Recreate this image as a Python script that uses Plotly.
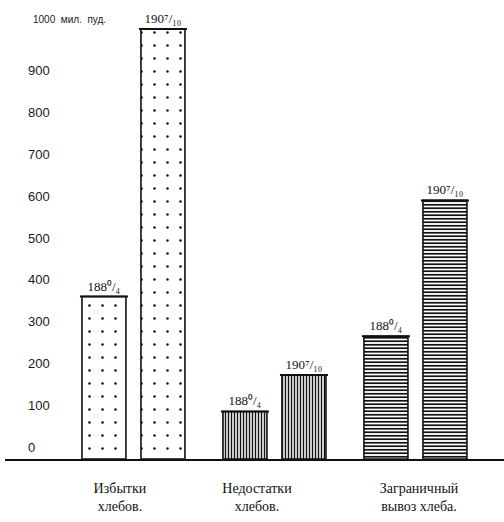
import plotly.graph_objects as go

# Grain balance, million poods
categories = ["Избытки<br>хлебов.", "Недостатки<br>хлебов.", "Заграничный<br>вывоз хлеба."]
period_labels = ["188\u2070/\u2084", "190\u2077/\u2081\u2080"]
values_1880s = [360, 85, 265]
values_1900s = [1000, 172, 590]
y_tick_values = [0, 100, 200, 300, 400, 500, 600, 700, 800, 900]
unit_label = "1000\u00a0\u00a0мил.\u00a0\u00a0пуд."

# Layout constants
AXIS_FLOOR = -28.7      # the drawn base line sits a little below the zero mark
AXIS_TOP = 1069.4
group_pos = [0, 1, 2]
label_pos = [-0.096, 0.876, 2.025]
patterns = dict(
    shape=[".", "|", "-"],
    size=[13, 3, 3.5],
    solidity=[0.03, 0.48, 0.5],
    fgcolor="#111111",
    bgcolor="white",
    fillmode="replace",
)

fig = go.Figure()
for vals, lab in ((values_1880s, period_labels[0]), (values_1900s, period_labels[1])):
    fig.add_trace(go.Bar(
        x=group_pos,
        y=[v - AXIS_FLOOR for v in vals],
        base=AXIS_FLOOR,
        marker=dict(color="white", line=dict(color="#111111", width=1.6), pattern=patterns),
        text=[lab] * len(vals),
        textposition="outside",
        textfont=dict(family="Liberation Serif", size=13, color="#111111"),
        constraintext="none",
        cliponaxis=False,
        error_y=dict(type="data", array=[0] * len(vals), symmetric=True,
                     width=24, thickness=2, color="#111111"),
        hoverinfo="skip",
    ))

fig.add_annotation(
    text=unit_label, xref="paper", yref="y", x=26 / 499, y=1000,
    xanchor="left", yanchor="middle", yshift=10, showarrow=False,
    font=dict(family="Liberation Sans", size=10, color="#1a1a1a"),
)

fig.update_layout(
    width=504, height=522,
    margin=dict(l=5, r=0, t=0, b=63),
    paper_bgcolor="white", plot_bgcolor="white",
    barmode="group", bargap=0.163, bargroupgap=0.2545,
    showlegend=False,
    xaxis=dict(
        range=[-0.911, 2.628], tickvals=label_pos, ticktext=categories,
        showgrid=False, zeroline=False, showline=True, linewidth=2, linecolor="#111111",
        ticks="", ticklabelstandoff=15,
        tickfont=dict(family="Liberation Serif", size=14, color="#111111"),
    ),
    yaxis=dict(
        range=[AXIS_FLOOR, AXIS_TOP], tickvals=y_tick_values,
        ticktext=[str(v) for v in y_tick_values],
        showgrid=False, zeroline=False, showline=False,
        ticks="", ticklabelposition="inside", ticklabelstandoff=20,
        tickfont=dict(family="Liberation Sans", size=13, color="#1a1a1a"),
    ),
)

fig.write_html("out.html")
